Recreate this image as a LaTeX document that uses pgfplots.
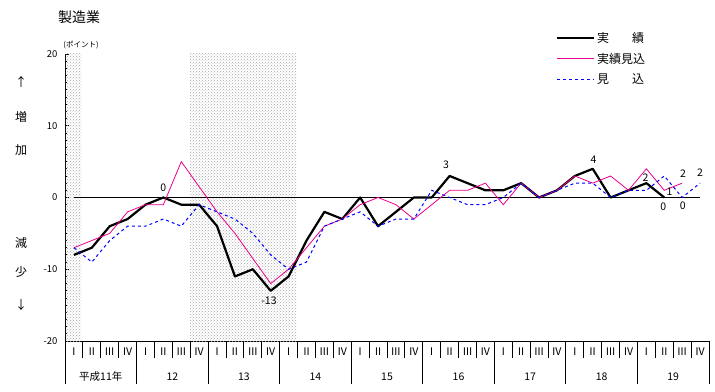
\documentclass[border=0pt]{standalone}
\usepackage{pgfplots}
\pgfplotsset{compat=1.18}
\usepackage{fontspec}
\setmainfont{Noto Sans CJK JP}
\usetikzlibrary{patterns}

\begin{document}
\begin{tikzpicture}[x=1pt,y=1pt]
\useasboundingbox (0,0) rectangle (715,391);
\begin{axis}[
  at={(65pt,50pt)}, anchor=south west,
  width=644pt, height=287pt, scale only axis,
  xmin=-0.5, xmax=35.5, ymin=-20, ymax=20,
  axis x line*=bottom, axis y line*=left,
  axis line style={-, line width=1pt},
  xtick=\empty,
  ytick={-20,-10,0,10,20},
  yticklabels={-20,-10,0,10,20},
  minor ytick={-19,-18,...,19},
  tick align=inside,
  major tick length=4pt, minor tick length=2pt,
  tick style={black, line width=0.8pt},
  yticklabel style={font=\fontsize{9.5}{10}\selectfont, xshift=-4pt},
  clip=false,
  legend style={at={(0.762,1.083)}, anchor=north west, draw=none, fill=none,
    font=\fontsize{12}{13}\selectfont, row sep=5pt, inner sep=0pt},
  legend cell align=left,
  legend image code/.code={\draw[#1] (0pt,0pt) -- (37pt,0pt);},
]
\fill[pattern=crosshatch dots, pattern color=gray!70] (axis cs:-0.5,-20) rectangle (axis cs:0.4,20);
\fill[pattern=crosshatch dots, pattern color=gray!70] (axis cs:6.5,-20) rectangle (axis cs:12.45,20);
\draw[black, line width=1pt] (axis cs:0,0) -- (axis cs:35,0);

\addplot[black, line width=2.2pt, line join=round] coordinates {
(0,-8) (1,-7) (2,-4) (3,-3) (4,-1) (5,0) (6,-1) (7,-1) (8,-4) (9,-11)
(10,-10) (11,-13) (12,-11) (13,-6) (14,-2) (15,-3) (16,0) (17,-4) (18,-2) (19,0)
(20,0) (21,3) (22,2) (23,1) (24,1) (25,2) (26,0) (27,1) (28,3) (29,4)
(30,0) (31,1) (32,2) (33,0)};
\addlegendentry{\makebox[47pt][s]{実\hfill 績}}

\addplot[magenta, line width=0.8pt] coordinates {
(0,-7) (1,-6) (2,-5) (3,-2) (4,-1) (5,-1) (6,5) (7,1.5) (8,-2) (9,-5)
(10,-8.5) (11,-12) (12,-10) (13,-7) (14,-4) (15,-3) (16,-1) (17,0) (18,-1) (19,-3)
(20,-1) (21,1) (22,1) (23,2) (24,-1) (25,2) (26,0) (27,1) (28,3) (29,2)
(30,3) (31,1) (32,4) (33,1) (34,2)};
\addlegendentry{\makebox[47pt][s]{実績見込}}

\addplot[blue, line width=1pt, dash pattern=on 3pt off 3pt] coordinates {
(0,-7) (1,-9) (2,-6) (3,-4) (4,-4) (5,-3) (6,-4) (7,-1) (8,-2) (9,-3)
(10,-5) (11,-8) (12,-10) (13,-9) (14,-4) (15,-3) (16,-2) (17,-4) (18,-3) (19,-3)
(20,1) (21,0) (22,-1) (23,-1) (24,0) (25,2) (26,0) (27,1) (28,2) (29,2)
(30,0) (31,1) (32,1) (33,3) (34,0) (35,2)};
\addlegendentry{\makebox[47pt][s]{見\hfill 込}}

\begin{scope}[font=\fontsize{10.5}{11}\selectfont]
\node at (axis cs:5,1.4) {0};
\node at (axis cs:10.9,-14.45) {-13};
\node at (axis cs:20.8,4.5) {3};
\node at (axis cs:29.05,5.3) {4};
\node at (axis cs:31.95,2.75) {2};
\node at (axis cs:32.95,-1.3) {0};
\node at (axis cs:33.3,0.75) {1};
\node at (axis cs:34.05,3.3) {2};
\node at (axis cs:34.03,-1.2) {0};
\node at (axis cs:35.0,3.45) {2};
\end{scope}
\end{axis}

% x-axis category separators and labels
\foreach \k in {1,2,3,5,6,7,9,10,11,13,14,15,17,18,19,21,22,23,25,26,27,29,30,31,33,34,35} {
  \draw[line width=0.8pt] ({65+17.889*\k},50) -- ({65+17.889*\k},33);
}
\foreach \k in {0,4,8,12,16,20,24,28,32,36} {
  \draw[line width=0.8pt] ({65+17.889*\k},50) -- ({65+17.889*\k},7);
}
\foreach \k in {0,4,...,32} {
  \node[font=\fontsize{10.5}{11}\selectfont] at ({65+17.889*(\k+0.5)},39) {Ⅰ};
  \node[font=\fontsize{10.5}{11}\selectfont] at ({65+17.889*(\k+1.5)},39) {Ⅱ};
  \node[font=\fontsize{10.5}{11}\selectfont] at ({65+17.889*(\k+2.5)},39) {Ⅲ};
  \node[font=\fontsize{10.5}{11}\selectfont] at ({65+17.889*(\k+3.5)},39) {Ⅳ};
}
\begin{scope}[font=\fontsize{10.5}{11}\selectfont]
\node at ({65+17.889*2},14) {平成11年};
\node at ({65+17.889*6},14) {12};
\node at ({65+17.889*10},14) {13};
\node at ({65+17.889*14},14) {14};
\node at ({65+17.889*18},14) {15};
\node at ({65+17.889*22},14) {16};
\node at ({65+17.889*26},14) {17};
\node at ({65+17.889*30},14) {18};
\node at ({65+17.889*34},14) {19};
\end{scope}

% titles and side text
\node[font=\fontsize{14}{15}\selectfont] at (79,374) {製造業};
\node[font=\fontsize{7.5}{8}\selectfont] at (81,346) {(ポイント)};
\begin{scope}[font=\fontsize{12}{13}\selectfont]
\node at (21,309) {↑};
\node at (21,274) {増};
\node at (21,241) {加};
\node at (21,148) {減};
\node at (21,119) {少};
\node at (21,86) {↓};
\end{scope}
\end{tikzpicture}
\end{document}
